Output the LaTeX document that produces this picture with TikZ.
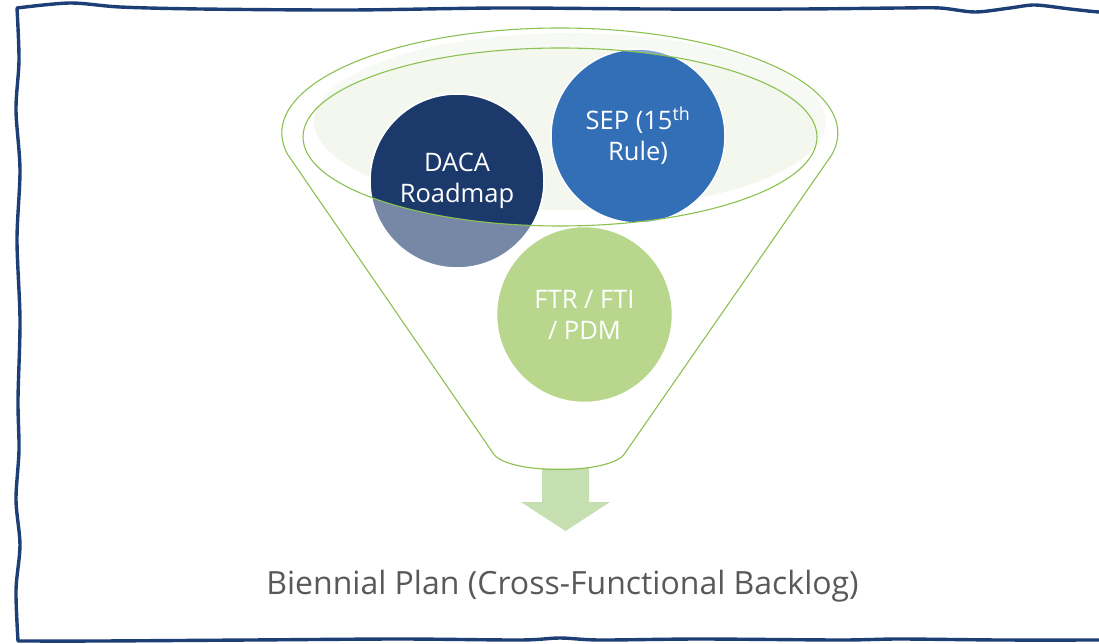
\documentclass[tikz,border=0pt]{standalone}
\usepackage{fontspec}
\setmainfont{Open Sans}
\begin{document}
\begin{tikzpicture}[x=1pt,y=-1pt,
  bordercol/.style={draw=borderblue, line width=3.4pt, line cap=round, line join=round},
  circ/.style={circle, draw=white, line width=1.5pt, minimum size=#1, inner sep=0pt,
     text=white, align=center, font=\fontsize{25.5}{31}\selectfont},
  funline/.style={draw=fungreen, line width=1.1pt},
  ]
\definecolor{borderblue}{HTML}{1D3F76}
\definecolor{fungreen}{HTML}{8CC152}
\definecolor{mouth}{HTML}{F3F7EE}
\definecolor{dacablue}{HTML}{1B3A6B}
\definecolor{sepblue}{HTML}{336FB7}
\definecolor{ftrgreen}{HTML}{B8D78C}
\definecolor{arrowgreen}{HTML}{C5DFB0}
\definecolor{textgrey}{HTML}{595959}
\useasboundingbox (0,0) rectangle (1099,644);

% wavy border
\draw[bordercol] plot[smooth, tension=0.5] coordinates {
  (1110,11) (1099,12) (1070,9) (1035,5) (1010,8) (975,12) (940,8) (900,8) (800,9) (650,9)
  (500,8) (350,10) (200,9) (120,7) (70,3) (17,8)}
  -- plot[smooth, tension=0.5] coordinates {(17,8) (19,60) (16,110) (20,170) (17,240)
  (20,320) (18,400) (19,450) (16,500) (20,545) (16,590) (18,641)}
  -- plot[smooth, tension=0.5] coordinates {(18,641) (100,641) (250,640) (400,639)
  (520,640) (560,638) (600,640) (700,639) (840,640) (900,639) (1000,640) (1110,640)};

% mouth light fill
\fill[mouth] (570,121.5) ellipse [x radius=256, y radius=88.5];

% arrow
\fill[arrowgreen] (542,468) -- (589,468) -- (589,502) -- (610,502) -- (565.5,531)
  -- (521,502) -- (542,502) -- cycle;

% circles
\node[circ=174, fill=dacablue] (daca) at (457,181) {DACA\\Roadmap};
\node[circ=174, fill=sepblue] (sep) at (638,136) {SEP (15\textsuperscript{th}\\Rule)};

% funnel translucent body (outside the mouth)
\fill[white, opacity=0.4, even odd rule]
  (288,155) arc[start angle=167.9, end angle=372.1, x radius=278, y radius=105]
  -- (625,453) .. controls (613,475) and (505,475) .. (493,453) -- cycle
  (560,137) ellipse [x radius=257, y radius=89];

\node[circ=176, fill=ftrgreen] (ftr) at (584.5,314.5) {FTR / FTI\\/ PDM};

% funnel outlines
\draw[funline]
  (288,155) arc[start angle=167.9, end angle=372.1, x radius=278, y radius=105]
  -- (625,453) .. controls (613,475) and (505,475) .. (493,453) -- cycle;
\draw[funline] (560,137) ellipse [x radius=257, y radius=89];

\node[anchor=base, text=textgrey, font=\fontsize{32}{38}\selectfont, inner sep=0pt] (plan) at (562.5,594)
  {Biennial Plan (Cross-Functional Backlog)};
\end{tikzpicture}
\end{document}
